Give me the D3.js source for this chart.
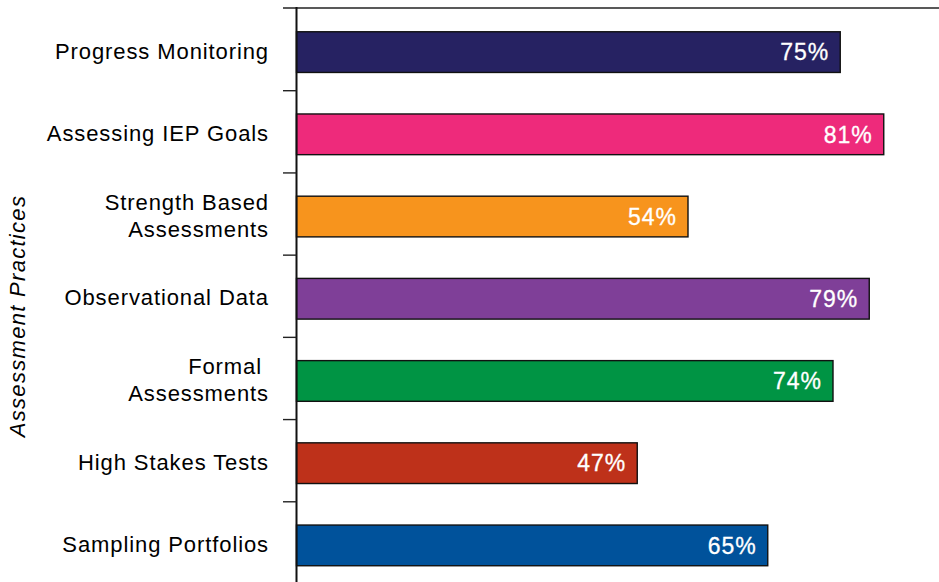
<!DOCTYPE html>
<html><head><meta charset="utf-8">
<script src="https://cdn.jsdelivr.net/npm/d3@7"></script>
<style>
html,body{margin:0;padding:0;background:#fff;}
svg{display:block;font-family:"Liberation Sans",Arial,Helvetica,sans-serif;}
</style></head>
<body>
<svg id="chart" width="939" height="582"></svg>
<script>
const categories = [
  ["Progress Monitoring"],
  ["Assessing IEP Goals"],
  ["Strength Based", "Assessments"],
  ["Observational Data"],
  ["Formal ", "Assessments"],
  ["High Stakes Tests"],
  ["Sampling Portfolios"]
];
const values = [75, 81, 54, 79, 74, 47, 65];
const colors = ["#262262", "#EE2A7B", "#F7941D", "#7F3F98", "#009444", "#BE311A", "#00529B"];
const yTitle = "Assessment Practices";

const svg = d3.select("#chart");
const axisX = 296.5;
const ids = categories.map((d, i) => i);

const x = d3.scaleLinear().domain([0, 100]).range([axisX, axisX + 725]);
const y = d3.scaleBand().domain(ids).range([11, 586.5]).paddingInner(0.505).paddingOuter(0.2525);

// top line
svg.append("line").attr("x1", 283).attr("x2", 939).attr("y1", 8).attr("y2", 8)
  .attr("stroke", "#222").attr("stroke-width", 1.6);

// bars
svg.selectAll("rect.bar").data(ids).enter().append("rect")
  .attr("class", "bar")
  .attr("x", x(0))
  .attr("y", i => y(i))
  .attr("width", i => x(values[i]) - x(0))
  .attr("height", y.bandwidth())
  .attr("fill", i => colors[i])
  .attr("stroke", "#111")
  .attr("stroke-width", 1.4);

// value labels
svg.selectAll("text.val").data(ids).enter().append("text")
  .attr("class", "val")
  .attr("x", i => x(values[i]) - 11)
  .attr("y", i => y(i) + y.bandwidth() / 2)
  .attr("dy", "0.36em")
  .attr("text-anchor", "end")
  .attr("fill", "#fff")
  .attr("font-size", 23)
  .attr("letter-spacing", 1)
  .attr("stroke", "#fff")
  .attr("stroke-width", 0.3)
  .text(i => values[i] + "%");

// axis line
svg.append("line").attr("x1", axisX).attr("x2", axisX).attr("y1", 7).attr("y2", 582)
  .attr("stroke", "#111").attr("stroke-width", 2);

// ticks between categories
const step = y.step();
const tickYs = ids.slice(1).map(i => y(i) - (step - y.bandwidth()) / 2 - 2.5);
svg.selectAll("line.tick").data(tickYs).enter().append("line")
  .attr("class", "tick")
  .attr("x1", 283).attr("x2", axisX).attr("y1", d => d).attr("y2", d => d)
  .attr("stroke", "#222").attr("stroke-width", 1.4);

// category labels
const lineH = 27;
const labels = svg.selectAll("text.cat").data(ids).enter().append("text")
  .attr("class", "cat")
  .attr("text-anchor", "end")
  .attr("fill", "#000")
  .attr("font-size", 22)
  .attr("letter-spacing", 0.9)
  .attr("y", i => y(i) + y.bandwidth() / 2);
labels.each(function(i) {
  const lines = categories[i];
  const t = d3.select(this);
  lines.forEach((ln, k) => {
    t.append("tspan")
      .attr("x", 269)
      .attr("dy", k === 0 ? (-(lines.length - 1) * lineH / 2 + 0.35 * 22 - 1) + "px" : lineH + "px")
      .attr("xml:space", "preserve")
      .style("white-space", "pre")
      .text(ln);
  });
});

// y title
svg.append("text")
  .attr("transform", "translate(25,316) rotate(-90)")
  .attr("text-anchor", "middle")
  .attr("font-size", 22)
  .attr("font-style", "italic")
  .attr("letter-spacing", 1.3)
  .attr("fill", "#000")
  .text(yTitle);
</script>
</body></html>
